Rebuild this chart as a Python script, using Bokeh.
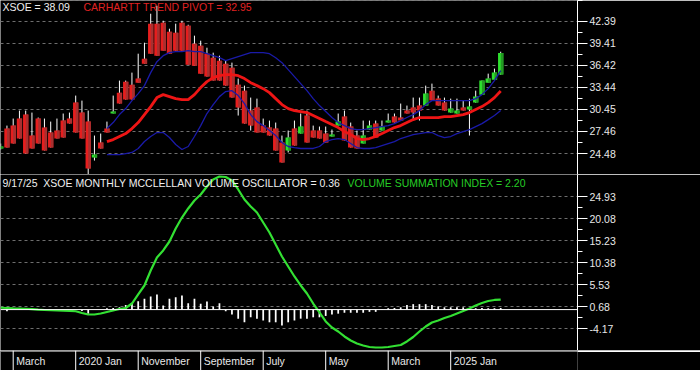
import numpy as np
from bokeh.plotting import figure
from bokeh.layouts import column
from bokeh.models import Range1d, FixedTicker, PrintfTickFormatter, Label, Span
from bokeh.embed import file_html
from bokeh.resources import INLINE
from bokeh.core.properties import value

# ---------------- data ----------------
months = [f"{y}-{m:02d}" for y in range(2019, 2026) for m in range(1, 13)][:81]

opens = [25.16, 27.86, 28.26, 29.21, 29.75, 26.91, 29.21, 27.99, 27.32, 27.59,
         28.94, 29.21, 31.37, 30.02, 28.80, 23.94, 25.97, 27.86, 29.89, 32.72,
         34.21, 33.80, 34.62, 37.32, 42.05, 42.05, 42.18, 40.97, 40.83, 42.18,
         41.78, 39.35, 39.08, 37.99, 37.45, 37.05, 36.64, 36.10, 33.80, 32.99,
         30.29, 30.70, 28.26, 27.99, 27.86, 25.97, 24.89, 27.86, 27.18, 29.62,
         27.59, 27.59, 27.18, 26.78, 28.26, 29.48, 28.13, 26.91, 25.83, 27.72,
         28.53, 27.59, 28.67, 29.48, 29.35, 30.29, 30.70, 30.97, 30.97, 32.99,
         31.91, 31.37, 30.02, 29.89, 30.70, 30.43, 31.37, 32.45, 34.07, 34.48,
         35.16]
highs = [25.83, 28.26, 29.21, 30.29, 30.29, 30.02, 29.35, 29.21, 28.80, 29.21,
         29.89, 30.02, 32.32, 31.64, 30.29, 26.91, 27.18, 28.80, 32.32, 34.35,
         34.35, 35.43, 37.99, 39.48, 43.40, 44.48, 42.45, 41.37, 42.05, 42.45,
         41.91, 40.43, 39.75, 38.80, 38.13, 37.72, 37.05, 36.78, 34.62, 33.67,
         32.05, 31.91, 29.21, 28.94, 28.67, 26.91, 27.59, 28.94, 29.89, 30.29,
         28.26, 28.13, 28.13, 27.72, 29.89, 30.29, 28.67, 27.59, 28.94, 28.94,
         28.94, 28.94, 29.89, 29.89, 31.24, 30.97, 32.05, 32.05, 33.67, 33.94,
         32.32, 32.05, 31.91, 31.91, 31.64, 31.91, 32.99, 34.35, 35.29, 35.97,
         38.26]
lows = [25.02, 25.29, 25.83, 26.51, 24.48, 25.16, 25.83, 24.89, 25.29, 26.51,
        26.64, 28.53, 27.32, 26.51, 21.64, 23.53, 25.16, 27.32, 29.89, 31.24,
        31.78, 31.78, 34.07, 36.64, 37.99, 37.72, 38.40, 37.99, 38.40, 38.40,
        36.51, 36.37, 35.29, 34.89, 34.35, 34.35, 33.67, 32.05, 29.62, 28.53,
        27.59, 27.32, 27.32, 26.91, 24.89, 23.26, 24.62, 25.56, 27.18, 25.97,
        26.64, 26.51, 25.97, 26.78, 28.26, 26.24, 25.29, 25.16, 25.83, 27.72,
        26.64, 27.59, 28.67, 28.67, 28.94, 29.89, 28.94, 28.94, 30.97, 31.64,
        30.97, 30.29, 30.02, 29.89, 30.29, 26.91, 31.37, 32.45, 34.07, 34.48,
        35.16]
closes = [25.43, 25.29, 25.83, 26.51, 24.48, 25.16, 25.83, 24.89, 25.29, 26.51,
          26.64, 28.53, 27.32, 26.51, 22.45, 24.34, 25.16, 27.32, 30.16, 31.24,
          31.78, 31.78, 34.07, 36.64, 37.99, 37.72, 38.40, 37.99, 38.40, 38.40,
          36.51, 36.37, 35.29, 34.89, 34.35, 34.35, 33.67, 32.05, 30.70, 28.53,
          28.26, 27.32, 27.32, 26.91, 24.89, 23.26, 26.64, 25.56, 28.13, 25.97,
          26.64, 26.51, 25.97, 27.05, 28.80, 26.24, 25.29, 25.16, 26.91, 28.26,
          26.64, 28.13, 28.94, 28.67, 28.94, 29.89, 30.02, 30.29, 32.59, 31.64,
          30.97, 30.29, 30.56, 30.29, 30.29, 30.83, 32.18, 34.35, 34.62, 35.43,
          38.09]

band_start = "2020-06"
pivot = [26.10, 26.37, 26.78, 27.18, 27.86, 28.67, 29.75, 30.83, 32.05, 32.45,
         32.18, 31.91, 31.78, 31.78, 32.45, 33.40, 34.21, 34.75, 35.02, 35.16,
         35.16, 35.02, 34.62, 34.07, 33.67, 33.26, 32.72, 31.91, 31.10, 30.56,
         30.29, 30.16, 30.02, 29.62, 29.21, 28.80, 28.40, 27.99, 27.45, 27.05,
         26.51, 26.37, 26.51, 26.78, 27.18, 27.59, 27.99, 28.26, 28.67, 29.07,
         29.35, 29.35, 29.35, 29.35, 29.48, 29.48, 29.62, 29.75, 30.02, 30.43,
         30.83, 31.37, 32.05, 32.95]
upper = [27.86, 28.67, 29.75, 30.56, 31.64, 32.59, 33.67, 35.43, 36.91, 37.72,
         38.13, 38.26, 38.26, 38.40, 38.26, 38.26, 37.99, 37.72, 37.45, 37.05,
         37.32, 37.59, 37.86, 38.13, 38.13, 38.13, 37.99, 37.45, 36.78, 35.83,
         34.89, 33.94, 32.99, 31.91, 30.97, 30.16, 29.35, 28.67, 28.26, 27.86,
         27.72, 27.72, 27.86, 27.99, 28.13, 28.26, 28.53, 28.94, 29.35, 29.75,
         30.29, 31.10, 31.64, 31.64, 31.64, 31.64, 31.64, 31.64, 31.64, 31.91,
         32.45, 33.26, 34.35, 35.70]
lower = [24.34, 24.34, 24.34, 24.48, 24.62, 25.16, 26.10, 26.78, 27.32, 27.32,
         26.64, 25.70, 25.02, 25.43, 26.78, 28.26, 29.89, 31.10, 32.18, 32.86,
         32.99, 32.32, 31.24, 29.75, 28.80, 28.26, 27.59, 26.91, 25.97, 25.43,
         25.29, 25.16, 25.16, 25.16, 25.43, 26.10, 26.37, 26.51, 26.37, 25.83,
         25.29, 25.16, 25.16, 25.29, 25.56, 25.83, 26.10, 26.51, 26.78, 27.05,
         27.18, 27.32, 27.32, 26.91, 26.64, 26.78, 27.18, 27.45, 27.72, 28.13,
         28.53, 29.07, 29.62, 30.29]

summation = [0.40, 0.35, 0.29, 0.24, 0.18, 0.09, -0.02, -0.09, -0.15, -0.20,
             -0.24, -0.29, -0.37, -0.75, -1.08, -1.08, -0.86, -0.53, -0.20, 0.13,
             0.35, 1.34, 3.33, 5.31, 8.62, 11.49, 13.03, 15.01, 17.88, 20.30,
             22.29, 24.05, 25.38, 27.14, 28.69, 29.34, 29.23, 28.46, 26.48, 24.27,
             22.73, 21.41, 19.20, 17.00, 14.35, 11.71, 9.50, 7.30, 5.31, 3.55,
             1.34, -0.64, -2.62, -3.95, -4.83, -5.93, -6.81, -7.48, -7.91, -8.25,
             -8.36, -8.36, -8.25, -8.02, -7.80, -7.03, -6.04, -4.83, -3.73, -2.84,
             -2.40, -1.85, -1.41, -0.86, -0.31, 0.24, 0.90, 1.46, 1.90, 2.12,
             2.20]
oscillator = [0.0, -0.35, 0.0, 0.0, 0.0, 0.0, 0.0, 0.0, 0.0, 0.0,
              0.0, 0.0, 0.0, -0.3, -0.9, 0.0, 0.0, 0.3, 0.35, 0.5,
              1.0, 1.4, 1.85, 2.4, 2.9, 3.3, 0.9, 2.4, 2.7, 3.1,
              1.4, 2.4, 1.3, 1.8, 0.7, 1.4, -0.35, -1.1, -2.0, -2.8,
              -1.7, -2.0, -2.4, -2.8, -2.8, -3.5, -2.8, -2.4, -2.0, -2.0,
              -1.7, -1.7, -1.4, -1.1, -0.9, -0.7, -0.7, -0.7, -0.7, -0.5,
              -0.5, 0.05, 0.3, 0.35, 0.5, 1.0, 1.2, 1.2, 1.2, 1.0,
              0.7, 0.5, 0.5, 0.5, 0.5, 0.35, 0.3, 0.35, 0.3, 0.3,
              0.36]

price_ticks = [24.48, 27.46, 30.45, 33.44, 36.42, 39.41, 42.39]
osc_ticks = [-4.17, 0.68, 5.53, 10.38, 15.23, 20.08, 24.93]
axis_months = ["2019-03", "2020-01", "2020-11", "2021-09", "2022-07", "2023-05", "2024-03", "2025-01"]
axis_labels = ["March", "2020 Jan", "November", "September", "July", "May", "March", "2025 Jan"]

title_price = "XSOE = 38.09"
title_pivot = "CARHARTT TREND PIVOT = 32.95"
title_osc = "9/17/25\u00a0 XSOE MONTHLY MCCLELLAN VOLUME OSCILLATOR = 0.36"
title_sum = "VOLUME SUMMATION INDEX = 2.20"

# ---------------- layout constants ----------------
FONT = "Liberation Sans"
FS = "10.5px"
PX_PER_MONTH = 6.25
FRAME_W = 577
RIGHT_W = 700 - FRAME_W
X0 = -0.032
TOP_H, MID_H, STRIP_H = 174, 176, 20
PRICE_LO, PRICE_HI = 21.64, 45.19

x = np.arange(len(months))
o = np.array(opens); h = np.array(highs); l = np.array(lows); c = np.array(closes)
up = c > o
bx = np.arange(months.index(band_start), months.index(band_start) + len(pivot))

xr = Range1d(X0, X0 + FRAME_W / PX_PER_MONTH)


def mid(ticks):
    return [(a + b) / 2 for a, b in zip(ticks[:-1], ticks[1:])]


def base_fig(height, yr, ticks, grid_ticks, minor_extra=()):
    p = figure(width=700, height=height, x_range=xr, y_range=yr,
               output_backend="svg", toolbar_location=None,
               x_axis_location=None, y_axis_location="right",
               min_border_left=0, min_border_right=RIGHT_W,
               min_border_top=0, min_border_bottom=0,
               background_fill_color="black", border_fill_color="black",
               outline_line_color=None)
    ax = p.yaxis[0]
    ax.ticker = FixedTicker(ticks=ticks, minor_ticks=mid(ticks) + list(minor_extra))
    ax.formatter = PrintfTickFormatter(format="%.2f")
    ax.axis_line_color = "white"
    ax.major_tick_line_color = "white"
    ax.minor_tick_line_color = "white"
    ax.major_tick_in = 0
    ax.major_tick_out = 10
    ax.minor_tick_in = 0
    ax.minor_tick_out = 5
    ax.major_label_standoff = 2
    ax.major_label_text_color = "#e8e8e8"
    ax.major_label_text_font = FONT
    ax.major_label_text_font_size = FS
    p.xgrid.visible = False
    p.ygrid.ticker = FixedTicker(ticks=grid_ticks)
    p.ygrid.grid_line_color = "#6e6e6e"
    p.ygrid.grid_line_dash = "3 3"
    p.ygrid.grid_line_width = 1
    return p


# ---------------- price panel ----------------
top_rule = PRICE_HI - 0.06
p1 = base_fig(TOP_H, Range1d(PRICE_LO, PRICE_HI), price_ticks, price_ticks + [top_rule], [top_rule])
p1.segment(x, l, x, h, line_color="white", line_width=1)
BW = 0.85
p1.vbar(x[up], width=BW, top=c[up], bottom=o[up], fill_color="#2ee02e", line_color=None)
p1.vbar(x[up] + BW / 4, width=BW / 2, top=c[up], bottom=o[up], fill_color="#239a23", line_color=None)
p1.vbar(x[~up], width=BW, top=o[~up], bottom=c[~up], fill_color="#e61e1e", line_color=None)
p1.vbar(x[~up] + BW / 4, width=BW / 2, top=o[~up], bottom=c[~up], fill_color="#a83030", line_color=None)
p1.line(bx, upper, line_color="#1a1aa8", line_width=1.3)
p1.line(bx, lower, line_color="#1a1aa8", line_width=1.3)
p1.line(bx, pivot, line_color="#ee1515", line_width=2.8)

p1.add_layout(Label(x=2, y=TOP_H - 0.5, x_units="screen", y_units="screen", text=title_price,
                    text_color="#f0f0f0", text_font=FONT, text_font_size=FS, text_baseline="top"))
p1.add_layout(Label(x=83, y=TOP_H - 0.5, x_units="screen", y_units="screen", text=title_pivot,
                    text_color="#e02222", text_font=FONT, text_font_size=FS, text_baseline="top"))

# ---------------- oscillator panel ----------------
p2 = base_fig(MID_H, Range1d(-9.02, 29.78), osc_ticks, osc_ticks)
p2.vbar(x, width=0.28, top=oscillator, bottom=0, fill_color="white", line_color=None)
p2.add_layout(Span(location=0, dimension="width", line_color="white", line_width=1))
p2.line(x, summation, line_color="#33e033", line_width=2.2)
p2.add_layout(Label(x=2, y=MID_H - 2.5, x_units="screen", y_units="screen", text=title_osc,
                    text_color="#f0f0f0", text_font=FONT, text_font_size=FS, text_baseline="top"))
p2.add_layout(Label(x=347, y=MID_H - 2.5, x_units="screen", y_units="screen", text=title_sum,
                    text_color="#26cc26", text_font=FONT, text_font_size=FS, text_baseline="top"))

# ---------------- date strip (same x scale, same frame width) ----------------
p3 = figure(width=700, height=STRIP_H, x_range=xr,
            y_range=Range1d(0, STRIP_H), output_backend="svg", toolbar_location=None,
            x_axis_location=None, y_axis_location="right",
            min_border_left=0, min_border_right=RIGHT_W, min_border_top=0, min_border_bottom=0,
            background_fill_color="black", border_fill_color="black", outline_line_color=None)
p3.xgrid.visible = False
p3.ygrid.visible = False
# right-side axis used only to continue the top rule across the right margin
sax = p3.yaxis[0]
sax.ticker = FixedTicker(ticks=[STRIP_H - 0.5], minor_ticks=[])
sax.axis_line_color = None
sax.major_tick_in = 0
sax.major_tick_out = RIGHT_W
sax.major_tick_line_color = "white"
sax.major_tick_line_width = 1
sax.major_label_text_font_size = "0px"
sax.major_label_text_color = None

sep = [months.index(m) for m in axis_months]
p3.add_layout(Span(location=STRIP_H - 0.5, dimension="width", line_color="white", line_width=1))
p3.segment(x0=sep, y0=[0] * len(sep), x1=sep, y1=[STRIP_H] * len(sep), line_color="white", line_width=1)
p3.text(x=sep, y=[STRIP_H / 2] * len(sep), text=axis_labels, x_offset=3,
        text_align="left", text_baseline="middle", text_color="#e8e8e8",
        text_font=value(FONT), text_font_size=value(FS))

layout = column(p1, p2, p3, spacing=0)
open("out.html", "w").write(file_html(layout, INLINE))
